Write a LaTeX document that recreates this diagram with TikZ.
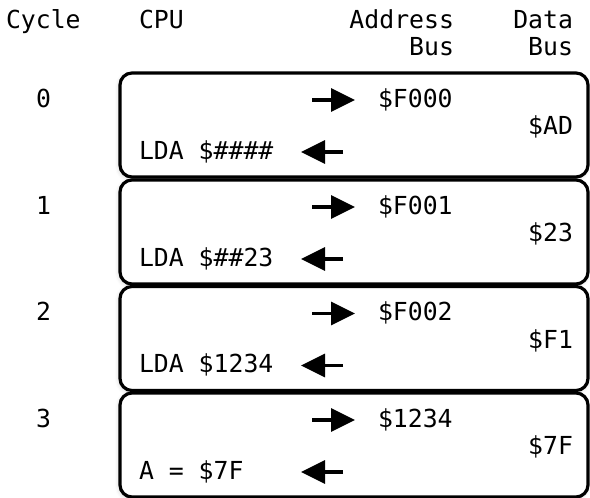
\documentclass[tikz,border=0pt]{standalone}
\usepackage{fontspec}
\setmonofont{DejaVu Sans Mono}
\usetikzlibrary{arrows.meta}
\usetikzlibrary{shadows.blur}

\begin{document}
\begin{tikzpicture}[x=1pt,y=-1pt,
    font=\ttfamily\fontsize{24.8}{27}\selectfont,
    txt/.style={inner sep=0pt, outer sep=0pt},
    frame/.style={draw, line width=3.2pt, rounded corners=12pt, fill=white,
      minimum width=468pt, minimum height=104pt, inner sep=0pt,
      blur shadow={shadow xshift=-1pt, shadow yshift=-1.5pt,
        shadow blur radius=4pt, shadow opacity=18}},
    bus/.style={-{Triangle[length=24pt,width=23pt]}, line width=3.4pt}]
      \useasboundingbox (0,0) rectangle (590,498);

      % column heads
      \node[txt, anchor=base west] (hcyc) at (6,28) {Cycle};
      \node[txt, anchor=base west] (hcpu) at (139,28) {CPU};
      \node[txt, anchor=base east] (hadr) at (454,28) {Address};
      \node[txt, anchor=base east] (hadb) at (454,55) {Bus};
      \node[txt, anchor=base east] (hdat) at (573,28) {Data};
      \node[txt, anchor=base east] (hdab) at (573,55) {Bus};

      % cycle 0
      \node[frame] (c0) at (354,125) {};
      \node[txt, anchor=base] (n0) at (43.5,107) {0};
      \node[txt, anchor=base west] (a0) at (378,107) {\$F000};
      \node[txt, anchor=base east] (d0) at (573,134.5) {\$AD};
      \node[txt, anchor=base west] (p0) at (139,159) {LDA \$\#\#\#\#};
      \coordinate (o0) at (312,100);   \coordinate (t0) at (355,100);
      \coordinate (i0) at (343,152);   \coordinate (s0) at (301,152);
      \draw[bus] (o0) -- (t0);
      \draw[bus] (i0) -- (s0);

      % cycle 1
      \node[frame] (c1) at (354,232) {};
      \node[txt, anchor=base] (n1) at (43.5,214) {1};
      \node[txt, anchor=base west] (a1) at (378,214) {\$F001};
      \node[txt, anchor=base east] (d1) at (573,241.5) {\$23};
      \node[txt, anchor=base west] (p1) at (139,266) {LDA \$\#\#23};
      \coordinate (o1) at (312,207);   \coordinate (t1) at (355,207);
      \coordinate (i1) at (343,259);   \coordinate (s1) at (301,259);
      \draw[bus] (o1) -- (t1);
      \draw[bus] (i1) -- (s1);

      % cycle 2
      \node[frame] (c2) at (354,338.5) {};
      \node[txt, anchor=base] (n2) at (43.5,320.5) {2};
      \node[txt, anchor=base west] (a2) at (378,320.5) {\$F002};
      \node[txt, anchor=base east] (d2) at (573,348) {\$F1};
      \node[txt, anchor=base west] (p2) at (139,372.5) {LDA \$1234};
      \coordinate (o2) at (312,313.5); \coordinate (t2) at (355,313.5);
      \coordinate (i2) at (343,365.5); \coordinate (s2) at (301,365.5);
      \draw[bus] (o2) -- (t2);
      \draw[bus] (i2) -- (s2);

      % cycle 3
      \node[frame] (c3) at (354,445) {};
      \node[txt, anchor=base] (n3) at (43.5,427) {3};
      \node[txt, anchor=base west] (a3) at (378,427) {\$1234};
      \node[txt, anchor=base east] (d3) at (573,454.5) {\$7F};
      \node[txt, anchor=base west] (p3) at (139,479) {A = \$7F};
      \coordinate (o3) at (312,420);   \coordinate (t3) at (355,420);
      \coordinate (i3) at (343,472);   \coordinate (s3) at (301,472);
      \draw[bus] (o3) -- (t3);
      \draw[bus] (i3) -- (s3);
    \end{tikzpicture}
\end{document}
